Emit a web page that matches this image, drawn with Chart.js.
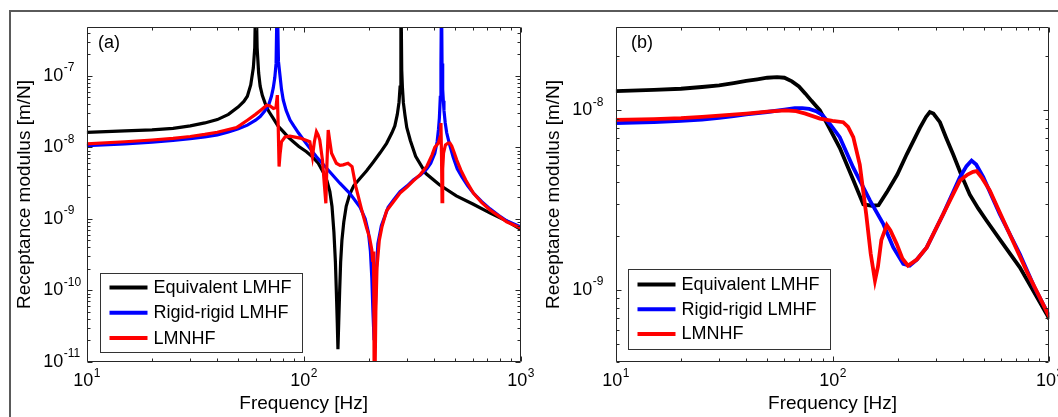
<!DOCTYPE html>
<html>
<head>
<meta charset="utf-8">
<style>
  body { margin: 0; background: #fff; }
  #wrap { position: relative; width: 1058px; height: 417px; overflow: hidden; background: #fff; }
  #frame { position: absolute; left: 9px; top: 10px; width: 1100px; height: 500px;
           border-left: 2px solid #5a5a5a; border-top: 2px solid #5a5a5a; }
  canvas { position: absolute; top: 0; }
</style>
</head>
<body>
<div id="wrap">
  <div id="frame"></div>
  <canvas id="chartA" width="560" height="417" style="left:0"></canvas>
  <canvas id="chartB" width="529" height="417" style="left:529px"></canvas>
</div>
<script src="https://cdn.jsdelivr.net/npm/chart.js@4.4.0/dist/chart.umd.min.js"></script>
<script>
// series names and colours
const seriesLabels = ['Equivalent LMHF', 'Rigid-rigid LMHF', 'LMNHF'];
const seriesColors = ['#000000', '#0000ff', '#ff0000'];

// (a) frequency [Hz] / receptance [m/N]
const freqAEq = [10, 15, 20, 25, 30, 35, 40, 45, 50, 53, 55, 57, 58.6, 59.5, 60.2, 61, 62, 63, 64.5, 66.3, 69, 72.4, 76, 80.5, 85, 89.6, 95, 103, 110, 116.7, 123, 128, 132, 135, 137.8, 140, 141.5, 142.8, 143.8, 145, 146.5, 148, 150, 153, 157, 163, 170, 182, 195, 209, 225, 241, 255, 263, 270, 275, 278, 280.5, 283, 285, 288, 293, 298.5, 310, 328, 366, 422, 505, 605, 724, 868, 1000];
const recAEq = [1.62e-8, 1.7e-8, 1.76e-8, 1.85e-8, 2.0e-8, 2.2e-8, 2.45e-8, 2.9e-8, 3.7e-8, 4.4e-8, 5.2e-8, 7.5e-8, 1.3e-7, 2.5e-7, 2e-6, 2.5e-7, 1.1e-7, 7.2e-8, 5.3e-8, 4.2e-8, 3.2e-8, 2.55e-8, 2.0e-8, 1.66e-8, 1.38e-8, 1.2e-8, 1.03e-8, 8.7e-9, 7.3e-9, 6.0e-9, 4.5e-9, 3.4e-9, 2.4e-9, 1.5e-9, 6.5e-10, 2.5e-10, 9e-11, 3.5e-11, 1.5e-11, 3.5e-11, 1e-10, 2.5e-10, 5e-10, 9e-10, 1.5e-9, 2.2e-9, 2.9e-9, 3.7e-9, 4.7e-9, 6.2e-9, 8.4e-9, 1.14e-8, 1.6e-8, 2.0e-8, 2.9e-8, 4.3e-8, 7e-8, 2e-6, 1.2e-7, 7e-8, 4.2e-8, 2.8e-8, 1.9e-8, 1.25e-8, 7.5e-9, 4.3e-9, 3.0e-9, 2.1e-9, 1.6e-9, 1.2e-9, 9.2e-10, 7.1e-10];

const freqARigid = [10, 15, 20, 25, 30, 35, 40, 45, 50, 55, 60, 63, 66, 68.7, 71, 72.4, 73.6, 74.6, 75.5, 76.5, 77.8, 79, 80.5, 83, 86.5, 90, 94.5, 103, 114.5, 127.5, 146.8, 163, 182, 192, 198.7, 203, 206, 208.5, 211, 214, 216.5, 219.7, 228, 245, 260, 278, 300, 320, 345, 369, 385, 402, 412, 418, 422, 426, 429, 431.5, 434, 437, 440, 443, 449, 456, 470, 489, 510, 535, 570, 605, 660, 722, 790, 861, 930, 1000];
const recARigid = [1.06e-8, 1.12e-8, 1.18e-8, 1.25e-8, 1.32e-8, 1.4e-8, 1.5e-8, 1.65e-8, 1.82e-8, 2.05e-8, 2.4e-8, 2.7e-8, 3.2e-8, 3.8e-8, 5.2e-8, 6.8e-8, 9.5e-8, 1.5e-7, 1.5e-6, 1.6e-7, 1.0e-7, 6.5e-8, 4.6e-8, 3.3e-8, 2.42e-8, 2.0e-8, 1.6e-8, 1.12e-8, 7.4e-9, 5.1e-9, 3.15e-9, 2.28e-9, 1.45e-9, 1.0e-9, 6.5e-10, 3.5e-10, 1.5e-10, 5e-11, 2e-11, 6e-11, 2e-10, 4.5e-10, 8e-10, 1.45e-9, 1.85e-9, 2.4e-9, 2.9e-9, 3.5e-9, 4.1e-9, 5.0e-9, 6e-9, 8.3e-9, 1.2e-8, 1.8e-8, 2.6e-8, 5e-8, 1.5e-7, 1.5e-6, 1.5e-7, 6.5e-8, 4.5e-8, 3.3e-8, 2.2e-8, 1.6e-8, 1.1e-8, 7.2e-9, 5.0e-9, 3.9e-9, 2.9e-9, 2.3e-9, 1.75e-9, 1.38e-9, 1.12e-9, 9.4e-10, 8.5e-10, 7.7e-10];

const freqANonlin = [10, 15, 20, 25, 30, 35, 40, 45, 49, 51, 55, 60, 64, 67.5, 70, 72.5, 74.5, 75.6, 76.3, 77, 77.8, 79, 82, 86.5, 96.3, 106.7, 109.7, 112, 114.5, 116.5, 118.6, 122, 124.5, 126.5, 128, 129.7, 131.5, 134.4, 141.4, 147, 152, 160, 167, 174, 185, 195, 201, 206, 208, 209.5, 210.5, 211.5, 213, 215, 217.7, 223, 229.6, 241, 254, 278, 300, 320, 345, 369, 390, 402, 417, 425, 429, 431.5, 434, 437, 441, 450, 463, 472, 481, 495, 507, 530, 558, 605, 660, 722, 790, 861, 930, 1000];
const recANonlin = [1.12e-8, 1.2e-8, 1.27e-8, 1.34e-8, 1.42e-8, 1.52e-8, 1.63e-8, 1.78e-8, 1.9e-8, 2.05e-8, 2.4e-8, 2.9e-8, 3.4e-8, 3.9e-8, 3.8e-8, 3.5e-8, 3.6e-8, 5.4e-8, 2e-8, 5.4e-9, 8e-9, 1.2e-8, 1.4e-8, 1.44e-8, 1.35e-8, 1.2e-8, 7.4e-9, 1.2e-8, 1.66e-8, 1.5e-8, 1.27e-8, 6.7e-9, 3e-9, 1.65e-9, 6e-9, 1.75e-8, 1.3e-8, 8.3e-9, 6e-9, 5.6e-9, 5.7e-9, 6e-9, 5.4e-9, 2.8e-9, 1.33e-9, 7.4e-10, 5.5e-10, 3.7e-10, 2.5e-10, 3.5e-10, 1e-10, 1e-12, 1e-12, 5e-11, 2.1e-10, 5e-10, 7.8e-10, 1.3e-9, 1.6e-9, 2.3e-9, 2.8e-9, 3.4e-9, 4.2e-9, 5.4e-9, 7.8e-9, 1.0e-8, 1.14e-8, 1.4e-8, 2.2e-8, 8e-9, 1.74e-9, 5e-9, 8.3e-9, 1.08e-8, 1.15e-8, 1.15e-8, 1.05e-8, 8.3e-9, 6.7e-9, 4.8e-9, 3.5e-9, 2.3e-9, 1.7e-9, 1.33e-9, 1.1e-9, 9.1e-10, 8.2e-10, 7.4e-10];

// (b)
const freqBEq = [10, 15, 20, 25, 30, 35, 40, 45, 50, 55.5, 60, 65, 70, 75, 80, 87.5, 95, 108, 124.7, 138.7, 152, 163, 178, 199, 220, 253, 270, 281, 292, 313, 335, 360, 395, 430, 470, 513, 600, 731, 850, 970, 1000];
const recBEq = [1.28e-8, 1.3e-8, 1.32e-8, 1.35e-8, 1.38e-8, 1.42e-8, 1.46e-8, 1.49e-8, 1.52e-8, 1.53e-8, 1.52e-8, 1.45e-8, 1.36e-8, 1.24e-8, 1.13e-8, 1.0e-8, 8.3e-9, 6.2e-9, 4.1e-9, 3.0e-9, 2.95e-9, 2.97e-9, 3.5e-9, 4.4e-9, 5.7e-9, 8.0e-9, 9.2e-9, 9.8e-9, 9.6e-9, 8.6e-9, 7e-9, 5.7e-9, 4.3e-9, 3.4e-9, 2.85e-9, 2.44e-9, 1.87e-9, 1.34e-9, 9.75e-10, 7.4e-10, 6.9e-10];

const freqBRigid = [10, 15, 20, 25, 30, 35, 40, 50, 60, 67, 72.5, 78, 84, 90, 98, 108, 124.7, 149, 171.6, 190.7, 212, 227, 245, 272, 324, 387, 415, 438, 460, 496, 591, 731, 850, 970, 1000];
const recBRigid = [8.5e-9, 8.6e-9, 8.75e-9, 8.9e-9, 9.1e-9, 9.3e-9, 9.5e-9, 9.8e-9, 1.01e-8, 1.03e-8, 1.03e-8, 1.02e-8, 9.9e-9, 9.4e-9, 8.3e-9, 7.1e-9, 4.8e-9, 3.15e-9, 2.33e-9, 1.73e-9, 1.4e-9, 1.37e-9, 1.48e-9, 1.73e-9, 2.65e-9, 4.25e-9, 4.9e-9, 5.26e-9, 5.0e-9, 4.25e-9, 2.65e-9, 1.59e-9, 1.05e-9, 7.7e-10, 7.3e-10];

const freqBNonlin = [10, 15, 20, 25, 30, 40, 50, 60.7, 68, 75, 87.5, 100, 112, 118, 124.7, 133.6, 143, 150, 157, 162, 168, 174, 178, 185, 197.6, 210, 223, 245, 272, 324, 387, 420, 445, 462, 490, 532, 635, 785, 900, 1000];
const recBNonlin = [8.87e-9, 8.95e-9, 9.05e-9, 9.2e-9, 9.35e-9, 9.6e-9, 9.85e-9, 1.0e-8, 9.9e-9, 9.6e-9, 9.0e-9, 8.75e-9, 8.6e-9, 8.1e-9, 7.1e-9, 5.0e-9, 2.65e-9, 1.6e-9, 1.13e-9, 1.35e-9, 1.9e-9, 2.14e-9, 2.3e-9, 2.15e-9, 1.81e-9, 1.5e-9, 1.37e-9, 1.48e-9, 1.73e-9, 2.65e-9, 4.07e-9, 4.4e-9, 4.55e-9, 4.6e-9, 4.2e-9, 3.58e-9, 2.24e-9, 1.28e-9, 9.2e-10, 7.1e-10];

const FONT = '"Liberation Sans", Arial, sans-serif';

function pts(f, r) {
    return f.map((v, i) => ({x: v, y: r[i]}));
}
function mant(v) {
    return v / Math.pow(10, Math.floor(Math.log10(v) + 1e-9));
}
function isInt(v) {
    return Math.abs(v - Math.round(v)) < 1e-6;
}

// box, inward ticks, 10^n labels, panel tag and the legend inside the axes
const panelDecor = {
    id: 'panelDecor',
    afterDraw(chart, args, o) {
        const {ctx, chartArea: a, scales} = chart;
        const xs = scales.x, ys = scales.y;
        const L = Math.round(a.left) + 0.5, R = Math.round(a.right) - 0.5;
        const T = Math.round(a.top) + 0.5, B = Math.round(a.bottom) - 0.5;
        ctx.save();
        ctx.strokeStyle = '#262626';
        ctx.lineWidth = 1;
        ctx.beginPath();
        ctx.rect(L, T, R - L, B - T);
        xs.ticks.forEach(t => {
            const m = mant(t.value);
            if (!isInt(m)) return;
            const len = m < 1.5 ? 5 : 3;
            const px = Math.round(xs.getPixelForValue(t.value)) + 0.5;
            ctx.moveTo(px, B); ctx.lineTo(px, B - len);
            ctx.moveTo(px, T); ctx.lineTo(px, T + len);
        });
        ys.ticks.forEach(t => {
            const m = mant(t.value);
            if (!isInt(m)) return;
            const len = m < 1.5 ? 5 : 3;
            const py = Math.round(ys.getPixelForValue(t.value)) + 0.5;
            ctx.moveTo(L, py); ctx.lineTo(L + len, py);
            ctx.moveTo(R, py); ctx.lineTo(R - len, py);
        });
        ctx.stroke();

        const big = '18px ' + FONT, small = '12px ' + FONT;
        ctx.fillStyle = '#000';
        ctx.textAlign = 'left';
        ctx.textBaseline = 'middle';
        xs.ticks.forEach(t => {
            if (Math.abs(mant(t.value) - 1) > 1e-6) return;
            const e = String(Math.round(Math.log10(t.value)));
            ctx.font = big; const w1 = ctx.measureText('10').width;
            ctx.font = small; const w2 = ctx.measureText(e).width;
            const x0 = xs.getPixelForValue(t.value) - (w1 + w2) / 2;
            ctx.font = big; ctx.fillText('10', x0, a.bottom + 19.5);
            ctx.font = small; ctx.fillText(e, x0 + w1 + 0.5, a.bottom + 11.5);
        });
        ys.ticks.forEach(t => {
            if (Math.abs(mant(t.value) - 1) > 1e-6) return;
            const e = String(Math.round(Math.log10(t.value)));
            const py = ys.getPixelForValue(t.value);
            const x0 = a.left - 43.5;
            ctx.font = big; const w1 = ctx.measureText('10').width;
            ctx.fillText('10', x0, py);
            ctx.font = small; ctx.fillText(e, x0 + w1 + 0.5, py - 8);
        });

        ctx.font = big;
        ctx.fillText(o.tag, a.left + o.tagX, a.top + 15.7);

        const lx = Math.round(a.left + o.legX) + 0.5;
        const ly = Math.round(a.bottom - o.legBottom - o.legH) + 0.5;
        ctx.fillStyle = '#fff';
        ctx.fillRect(lx, ly, o.legW, o.legH);
        ctx.strokeStyle = '#333';
        ctx.lineWidth = 1;
        ctx.strokeRect(lx, ly, o.legW, o.legH);
        chart.data.datasets.forEach((ds, i) => {
            const ry = ly + o.rowTop + i * o.rowGap;
            ctx.strokeStyle = ds.borderColor;
            ctx.lineWidth = 4;
            ctx.beginPath();
            ctx.moveTo(lx + 9, ry);
            ctx.lineTo(lx + 47, ry);
            ctx.stroke();
            ctx.fillStyle = '#000';
            ctx.font = big;
            ctx.fillText(ds.label, lx + 53, ry + 0.5);
        });
        ctx.restore();
    }
};

function makeChart(id, series, cfg) {
    const datasets = series.map((s, i) => ({
        label: seriesLabels[i],
        data: pts(s[0], s[1]),
        borderColor: seriesColors[i],
        borderWidth: cfg.lw,
        pointRadius: 0,
        tension: 0,
        clip: 0,
        order: 3 - i
    }));
    return new Chart(document.getElementById(id), {
        type: 'line',
        data: {datasets: datasets},
        plugins: [panelDecor],
        options: {
            responsive: false,
            animation: false,
            layout: {padding: {top: 27.3, right: cfg.padRight, left: 0, bottom: 0}},
            plugins: {
                legend: {display: false},
                tooltip: {enabled: false},
                panelDecor: cfg.decor
            },
            scales: {
                x: {
                    type: 'logarithmic', min: 10, max: 1000,
                    grid: {display: false}, border: {display: false},
                    ticks: {display: false},
                    title: {display: true, text: 'Frequency [Hz]', color: '#000',
                            font: {family: FONT, size: 19}, padding: {top: 0, bottom: 1.6}},
                    afterFit: s => { s.height = 55.3; }
                },
                y: {
                    type: 'logarithmic', min: cfg.yMin, max: cfg.yMax,
                    grid: {display: false}, border: {display: false},
                    ticks: {display: false},
                    title: {display: true, text: 'Receptance modulus [m/N]', color: '#000',
                            font: {family: FONT, size: 19}, padding: {top: 13.4, bottom: 0}},
                    afterFit: s => { s.width = 86.7; }
                }
            }
        }
    });
}

makeChart('chartA',
    [[freqAEq, recAEq], [freqARigid, recARigid], [freqANonlin, recANonlin]],
    {yMin: 1e-11, yMax: 4.8e-7, padRight: 39.3, lw: 3.2,
     decor: {tag: '(a)', tagX: 11.3, legX: 13.3, legBottom: 10, legW: 202, legH: 79, rowTop: 14, rowGap: 25.3}});

makeChart('chartB',
    [[freqBEq, recBEq], [freqBRigid, recBRigid], [freqBNonlin, recBNonlin]],
    {yMin: 4e-10, yMax: 2.9e-8, padRight: 8.7, lw: 3.8,
     decor: {tag: '(b)', tagX: 15.3, legX: 12.7, legBottom: 12.7, legW: 202, legH: 80, rowTop: 15, rowGap: 24.7}});
</script>
</body>
</html>
